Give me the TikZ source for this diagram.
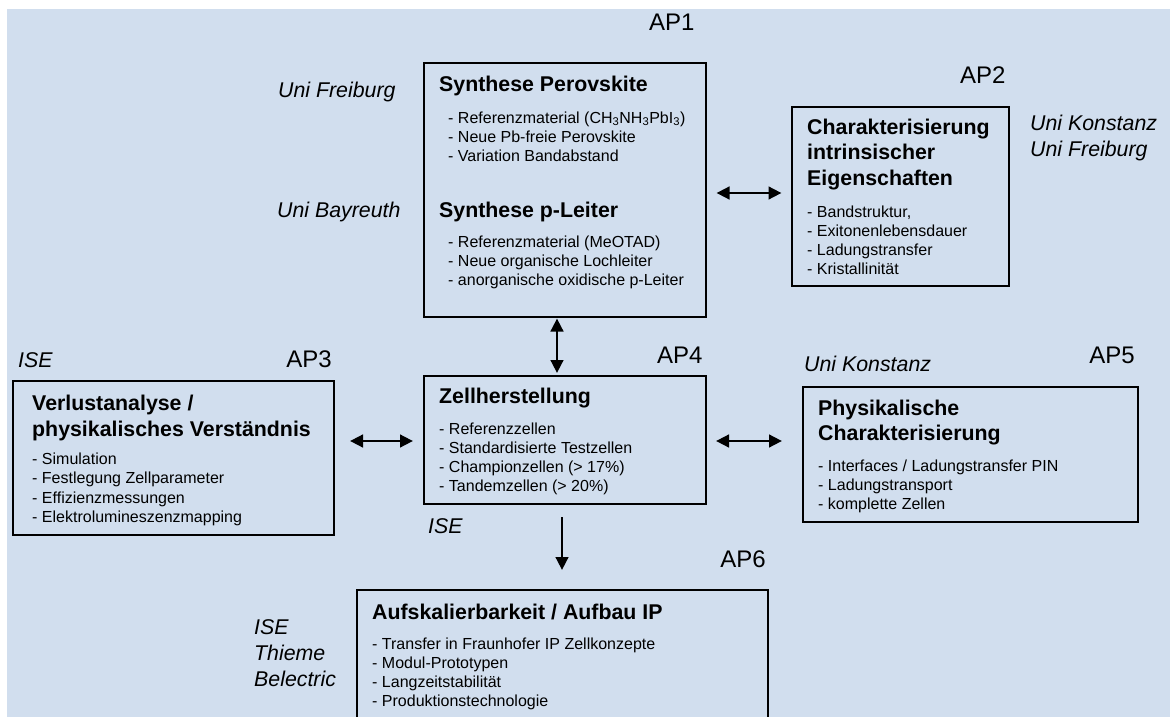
\documentclass[tikz,border=0pt]{standalone}
\usepackage{fontspec}
\setmainfont{Liberation Sans}
\usetikzlibrary{arrows.meta}
\definecolor{bg}{RGB}{209,222,238}
\begin{document}
\begin{tikzpicture}[x=1pt,y=-1pt,
  box/.style={draw, line width=1.8pt, inner sep=0pt, outer sep=0pt},
  sm/.style={font=\fontsize{16}{19.2}\selectfont, align=left, inner sep=0pt, anchor=base west},
  hd/.style={font=\bfseries\fontsize{21.33}{25.8}\selectfont, align=left, inner sep=0pt, anchor=base west},
  it/.style={font=\itshape\fontsize{21.33}{26}\selectfont, align=left, inner sep=0pt, anchor=base west},
  ap/.style={font=\fontsize{24}{28}\selectfont, inner sep=0pt},
  tip/.tip={Triangle[length=13pt,width=12.5pt]},
  dbl/.style={tip-tip, line width=2.8pt},
  one/.style={-tip, line width=2.8pt}]
\useasboundingbox (0,0) rectangle (1170,717);
\clip (0,0) rectangle (1170,717);
\fill[bg] (7,9) rectangle (1170,717);

% boxes
\node[box, minimum width=282pt, minimum height=254pt] (ap1) at (565,190) {};
\node[box, minimum width=217pt, minimum height=179pt] (ap2) at (900.5,196.5) {};
\node[box, minimum width=321pt, minimum height=154pt] (ap3) at (173.5,458) {};
\node[box, minimum width=282pt, minimum height=128pt] (ap4) at (565,440) {};
\node[box, minimum width=335pt, minimum height=135pt] (ap5) at (970.5,454.5) {};
\node[box, minimum width=411pt, minimum height=160pt] (ap6) at (562.5,670) {};

% (multi-line nodes are placed at the baseline of their last line)
% AP1
\node[ap, anchor=base west] (l1) at (649,31) {AP1};
\node[it] (u1a) at (278,97) {Uni Freiburg};
\node[it] (u1b) at (277,217) {Uni Bayreuth};
\node[hd] (h1a) at (439,92) {Synthese Perovskite};
\node[sm] (t1a) at (448,161.4) {- Referenzmaterial (CH\textsubscript{3}NH\textsubscript{3}PbI\textsubscript{3})\\- Neue Pb-freie Perovskite\\- Variation Bandabstand};
\node[hd] (h1b) at (439,217) {Synthese p-Leiter};
\node[sm] (t1b) at (448,285.4) {- Referenzmaterial (MeOTAD)\\- Neue organische Lochleiter\\- anorganische oxidische p-Leiter};

% AP2
\node[ap, anchor=base west] (l2) at (960,83) {AP2};
\node[it] (u2) at (1030,156) {Uni Konstanz\\Uni Freiburg};
\node[hd] (h2) at (807,185.6) {Charakterisierung\\intrinsischer\\Eigenschaften};
\node[sm] (t2) at (807,274.6) {- Bandstruktur,\\- Exitonenlebensdauer\\- Ladungstransfer\\- Kristallinität};

% AP3
\node[it] (u3) at (18,367) {ISE};
\node[ap, anchor=base east] (l3) at (332,367) {AP3};
\node[hd] (h3) at (32,436) {Verlustanalyse /\\physikalisches Verständnis};
\node[sm] (t3) at (32,522.3) {- Simulation\\- Festlegung Zellparameter\\- Effizienzmessungen\\- Elektrolumineszenzmapping};

% AP4
\node[ap, anchor=base west] (l4) at (657,363) {AP4};
\node[it] (u4) at (428,533) {ISE};
\node[hd] (h4) at (439,403) {Zellherstellung};
\node[sm] (t4) at (439,491.6) {- Referenzzellen\\- Standardisierte Testzellen\\- Championzellen (> 17\%)\\- Tandemzellen (> 20\%)};

% AP5
\node[it] (u5) at (804,371) {Uni Konstanz};
\node[ap, anchor=base east] (l5) at (1135,363) {AP5};
\node[hd] (h5) at (818,440.8) {Physikalische\\Charakterisierung};
\node[sm] (t5) at (818,509.4) {- Interfaces / Ladungstransfer PIN\\- Ladungstransport\\- komplette Zellen};

% AP6
\node[ap, anchor=base east] (l6) at (766,567) {AP6};
\node[it] (u6) at (254,686) {ISE\\Thieme\\Belectric};
\node[hd] (h6) at (372,619) {Aufskalierbarkeit / Aufbau IP};
\node[sm] (t6) at (372,706.6) {- Transfer in Fraunhofer IP Zellkonzepte\\- Modul-Prototypen\\- Langzeitstabilität\\- Produktionstechnologie};

% connectors
\coordinate (r12) at (0,193);
\coordinate (r14) at (557,0);
\coordinate (r345) at (0,441);
\coordinate (r46) at (562,0);
\draw[dbl, shorten <=10.5pt, shorten >=10.5pt] (ap1.east |- r12) -- (ap2.west |- r12);
\draw[dbl, shorten <=1.5pt, shorten >=3pt] (ap1.south -| r14) -- (ap4.north -| r14);
\draw[dbl, shorten <=16pt, shorten >=11pt] (ap3.east |- r345) -- (ap4.west |- r345);
\draw[dbl, shorten <=10pt, shorten >=21pt] (ap4.east |- r345) -- (ap5.west |- r345);
\draw[one, shorten <=13pt, shorten >=20pt] (ap4.south -| r46) -- (ap6.north -| r46);
\end{tikzpicture}
\end{document}
